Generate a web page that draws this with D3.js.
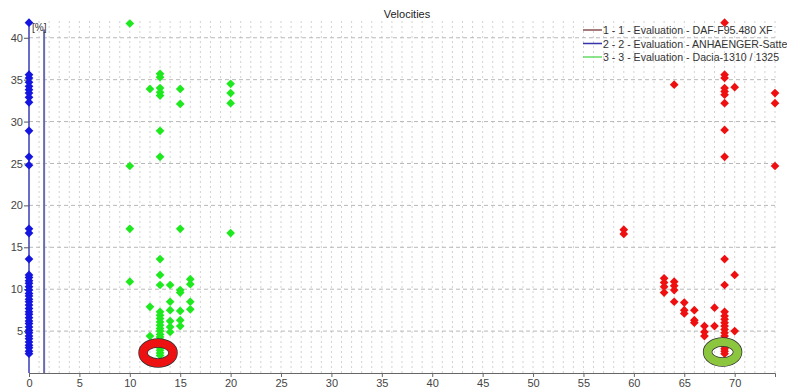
<!DOCTYPE html>
<html>
<head>
<meta charset="utf-8">
<script src="https://cdn.jsdelivr.net/npm/d3@7"></script>
<style>
  body { margin: 0; background: #fff; }
  svg { display: block; font-family: "Liberation Sans", Arial, sans-serif; }
</style>
</head>
<body>
<div id="chart"></div>
<script>
// series values, [velocity, percent]
const dafPoints = [
  [69, 41.8], [64, 34.4], [69, 35.6], [69, 35.2], [69, 34.0], [69, 33.6], [69, 33.2], [69, 32.2],
  [70, 34.1], [74, 33.4], [74, 32.2], [69, 29.0], [69, 25.8], [74, 24.7], [59, 17.1], [59, 16.6],
  [69, 13.6], [70, 11.7], [69, 10.5], [63, 11.3], [63, 10.8], [63, 10.3], [63, 9.6],
  [64, 10.9], [64, 10.4], [64, 9.9], [64, 8.5], [65, 8.4], [65, 7.5], [65, 7.1],
  [66, 7.5], [66, 6.3], [66, 6.0], [67, 5.6], [67, 4.9], [67, 4.4], [68, 7.8], [68, 5.6], [70, 5.0],
  [69, 7.3], [69, 6.8], [69, 6.4], [69, 6.0], [69, 5.6], [69, 5.2], [69, 4.8], [69, 4.4],
  [69, 4.0], [69, 3.6], [69, 3.2], [69, 2.9], [69, 2.6], [69, 2.3]
];
const anhPoints = [
  [0, 41.8], [0, 35.6], [0, 35.2], [0, 34.7], [0, 34.2], [0, 33.8], [0, 33.4], [0, 32.9], [0, 32.3],
  [0, 28.9], [0, 25.8], [0, 24.8], [0, 17.2], [0, 16.7], [0, 13.6],
  [0, 11.7], [0, 11.4], [0, 11.0], [0, 10.7], [0, 10.3], [0, 9.9], [0, 9.5], [0, 9.2], [0, 8.8],
  [0, 8.5], [0, 8.1], [0, 7.7], [0, 7.3], [0, 7.0], [0, 6.6], [0, 6.2], [0, 5.9], [0, 5.5],
  [0, 5.1], [0, 4.8], [0, 4.4], [0, 4.1], [0, 3.7], [0, 3.3], [0, 3.0], [0, 2.6], [0, 2.3]
];
const daciaPoints = [
  [10, 41.7], [10, 24.7], [10, 17.2], [10, 10.9],
  [12, 33.9], [13, 35.7], [13, 35.3], [13, 34.0], [13, 33.5], [13, 33.1], [13, 28.9], [13, 25.8],
  [15, 33.9], [15, 32.1], [15, 17.2], [20, 34.5], [20, 33.4], [20, 32.2], [20, 16.7],
  [13, 13.6], [13, 11.7], [13, 10.5], [14, 10.5], [15, 9.9], [15, 9.6], [16, 11.2], [16, 10.6],
  [12, 7.9], [14, 8.5], [14, 7.5], [15, 7.4], [16, 8.5], [16, 7.6], [14, 6.2], [14, 5.5], [14, 4.9],
  [15, 6.3], [15, 5.6], [12, 4.4],
  [13, 7.3], [13, 6.9], [13, 6.5], [13, 6.1], [13, 5.7], [13, 5.3], [13, 5.0], [13, 4.6],
  [13, 4.3], [13, 4.0], [13, 3.6], [13, 3.3], [13, 3.0], [13, 2.7], [13, 2.4], [13, 2.1]
];
const legendLabels = [
  "1 - 1 - Evaluation - DAF-F95.480 XF",
  "2 - 2 - Evaluation - ANHAENGER-Satte",
  "3 - 3 - Evaluation - Dacia-1310 / 1325"
];
const xTicks = d3.range(0, 71, 5);
const yTicks = [5, 10, 15, 20, 25, 30, 35, 40];
// highlighted spots [velocity, percent]
const marks = [[12.8, 2.4], [68.8, 2.5]];

const width = 787, height = 389;
const margin = {top: 21, right: 12, bottom: 16, left: 29};

const svg = d3.select('#chart').append('svg')
  .attr('width', width)
  .attr('height', height);

const x = d3.scaleLinear().domain([0, 74]).range([margin.left, width - margin.right]);
const y = d3.scaleLinear().domain([0, 42]).range([height - margin.bottom, margin.top]);

// grid
svg.append('g')
  .selectAll('line')
  .data(d3.range(1, 75))
  .join('line')
  .attr('x1', d => x(d)).attr('x2', d => x(d))
  .attr('y1', y(42)).attr('y2', y(0))
  .attr('stroke', '#d2d2d2')
  .attr('stroke-dasharray', '2,3');

svg.append('g')
  .selectAll('line')
  .data(yTicks)
  .join('line')
  .attr('x1', x(0)).attr('x2', x(74))
  .attr('y1', d => y(d)).attr('y2', d => y(d))
  .attr('stroke', '#b8b8b8')
  .attr('stroke-dasharray', '4,3');

// marker line
svg.append('line')
  .attr('x1', x(1.5)).attr('x2', x(1.5))
  .attr('y1', y(41)).attr('y2', y(0))
  .attr('stroke', '#6a6aae')
  .attr('stroke-width', 2);

// axes
const xAxis = svg.append('g')
  .attr('transform', `translate(0,${y(0)})`)
  .call(d3.axisBottom(x).tickValues(xTicks).tickSize(4).tickPadding(2));
xAxis.select('.domain').attr('stroke', '#666');
xAxis.selectAll('.tick line').attr('stroke', '#666');
xAxis.selectAll('text').attr('fill', '#444').attr('font-size', 11);

const yAxis = svg.append('g')
  .attr('transform', `translate(${x(0)},0)`)
  .call(d3.axisLeft(y).tickValues(yTicks).tickSize(5).tickPadding(1));
yAxis.select('.domain').attr('stroke', '#3a3ab8').attr('stroke-width', 1.5)
  .attr('d', `M0,${y(0)}V${y(42)}`);
yAxis.selectAll('.tick line').attr('stroke', '#555');
yAxis.selectAll('text').attr('fill', '#444').attr('font-size', 11);

svg.append('text')
  .attr('x', x(0) + 3).attr('y', 31)
  .attr('font-size', 10).attr('fill', '#333')
  .text('[%]');

// title
svg.append('text')
  .attr('x', 407).attr('y', 18)
  .attr('text-anchor', 'middle')
  .attr('font-size', 11).attr('fill', '#222')
  .text('Velocities');

// points
const diamond = d3.symbol(d3.symbolSquare, 38);
function drawSeries(points, color) {
  svg.append('g')
    .selectAll('path')
    .data(points)
    .join('path')
    .attr('d', diamond)
    .attr('transform', d => `translate(${x(d[0])},${y(d[1])}) rotate(45)`)
    .attr('fill', color);
}
drawSeries(anhPoints, '#1515e0');
drawSeries(dafPoints, '#ee1010');
drawSeries(daciaPoints, '#1ee81e');

// highlight rings
const ringColors = ['#ee1111', '#8cc63f'];
const rings = svg.append('g').selectAll('g').data(marks).join('g')
  .attr('transform', d => `translate(${x(d[0])},${y(d[1])})`);
rings.append('ellipse')
  .attr('rx', 15).attr('ry', 10)
  .attr('fill', 'none').attr('stroke', '#333').attr('stroke-width', 9.5);
rings.append('ellipse')
  .attr('rx', 15).attr('ry', 10)
  .attr('fill', 'none')
  .attr('stroke', (d, i) => ringColors[i])
  .attr('stroke-width', 8);

// legend
const legendColors = ['#8a5050', '#3333aa', '#66dd66'];
const legend = svg.append('g').selectAll('g').data(legendLabels).join('g')
  .attr('transform', (d, i) => `translate(583,${30 + i * 13.5})`);
legend.append('line')
  .attr('x1', 0).attr('x2', 19)
  .attr('stroke', (d, i) => legendColors[i])
  .attr('stroke-width', 1.5);
legend.append('text')
  .attr('x', 20).attr('y', 4)
  .attr('font-size', 10.6).attr('fill', '#333')
  .text(d => d);
</script>
</body>
</html>
